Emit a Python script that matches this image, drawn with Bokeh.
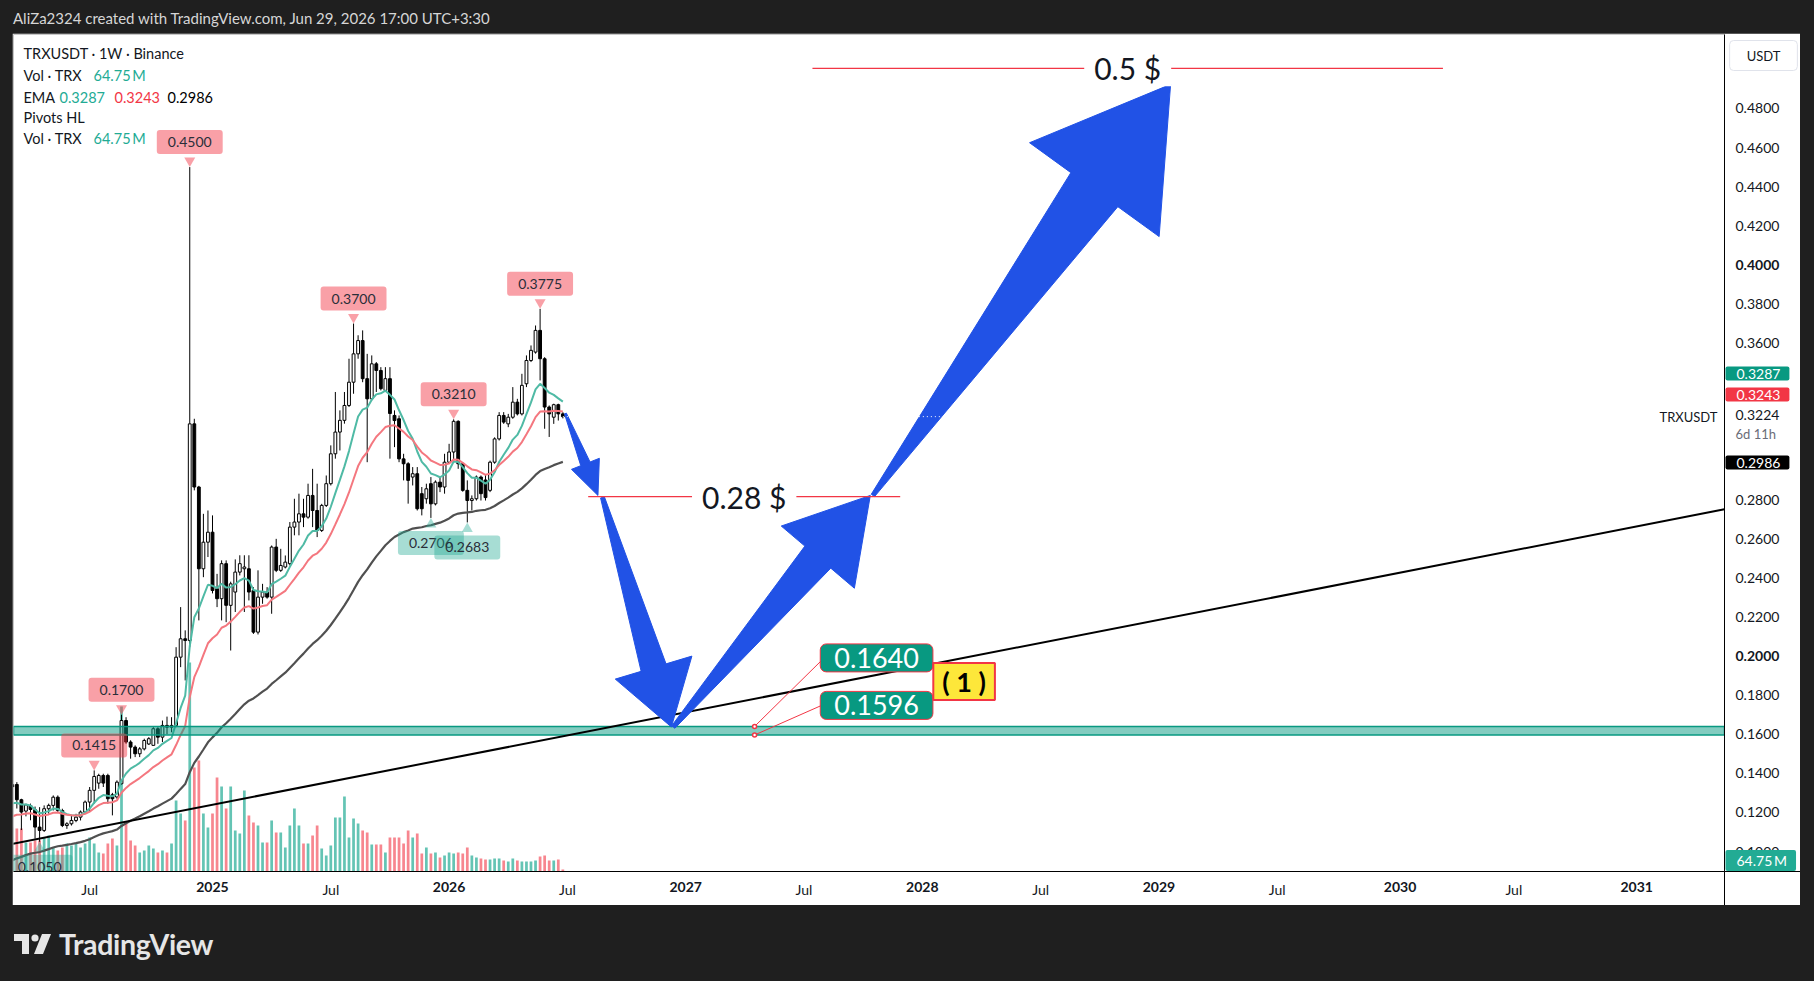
import math
import pandas as pd
from bokeh.plotting import figure
from bokeh.models import (ColumnDataSource, Range1d, FixedTicker, Label, Div, Spacer,
                          PrintfTickFormatter, DatetimeTickFormatter)
from bokeh.layouts import column, row
from bokeh.core.properties import value
from bokeh.embed import file_html
from bokeh.resources import INLINE

# ---------------- data (TRXUSDT, 1W, Binance) ----------------
FIRST_WEEK = "2024-03-04"
OPEN = [0.1330, 0.1343, 0.1265, 0.1207, 0.1235, 0.1214, 0.1125, 0.1108, 0.1219, 0.1236,
        0.1278, 0.1210, 0.1133, 0.1142, 0.1159, 0.1176, 0.1202, 0.1253, 0.1313, 0.1350,
        0.1389, 0.1389, 0.1290, 0.1279, 0.1347, 0.1670, 0.1560, 0.1534, 0.1500, 0.1525,
        0.1550, 0.1543, 0.1628, 0.1585, 0.1645, 0.1636, 0.1645, 0.1994, 0.2088, 0.2079,
        0.3187, 0.2864, 0.2446, 0.2582, 0.2633, 0.2344, 0.2293, 0.2472, 0.2259, 0.2327,
        0.2429, 0.2446, 0.2446, 0.2335, 0.2122, 0.2301, 0.2327, 0.2301, 0.2557, 0.2438,
        0.2455, 0.2472, 0.2659, 0.2685, 0.2727, 0.2710, 0.2821, 0.2744, 0.2642, 0.2770,
        0.2881, 0.3034, 0.3145, 0.3205, 0.3281, 0.3400, 0.3545, 0.3613, 0.3418, 0.3315,
        0.3494, 0.3460, 0.3358, 0.3418, 0.3230, 0.3213, 0.3008, 0.2983, 0.2915, 0.2932,
        0.2830, 0.2804, 0.2881, 0.2778, 0.2889, 0.2864, 0.2991, 0.3043, 0.3200, 0.2983,
        0.2847, 0.2795, 0.2804, 0.2915, 0.2900, 0.2847, 0.2991, 0.3110, 0.3230, 0.3187,
        0.3221, 0.3298, 0.3238, 0.3392, 0.3511, 0.3554, 0.3665, 0.3520, 0.3273, 0.3221,
        0.3285, 0.3238]
HIGH = [0.1380, 0.1355, 0.1270, 0.1245, 0.1245, 0.1230, 0.1227, 0.1236, 0.1245, 0.1287,
        0.1287, 0.1219, 0.1150, 0.1185, 0.1193, 0.1210, 0.1261, 0.1330, 0.1415, 0.1398,
        0.1398, 0.1398, 0.1300, 0.1364, 0.1700, 0.1687, 0.1569, 0.1543, 0.1534, 0.1577,
        0.1585, 0.1636, 0.1636, 0.1670, 0.1690, 0.1687, 0.2045, 0.2250, 0.2131, 0.4500,
        0.3213, 0.2870, 0.2727, 0.2744, 0.2719, 0.2420, 0.2489, 0.2489, 0.2380, 0.2494,
        0.2515, 0.2515, 0.2515, 0.2352, 0.2438, 0.2369, 0.2352, 0.2565, 0.2599, 0.2548,
        0.2514, 0.2685, 0.2804, 0.2830, 0.2804, 0.2881, 0.2957, 0.2881, 0.2778, 0.2923,
        0.3077, 0.3350, 0.3256, 0.3350, 0.3520, 0.3700, 0.3640, 0.3665, 0.3545, 0.3537,
        0.3503, 0.3477, 0.3477, 0.3477, 0.3256, 0.3230, 0.3034, 0.2991, 0.2966, 0.2966,
        0.2864, 0.2881, 0.2915, 0.2898, 0.2915, 0.3034, 0.3085, 0.3210, 0.3205, 0.2990,
        0.2898, 0.2821, 0.2923, 0.2923, 0.2930, 0.2999, 0.3118, 0.3247, 0.3247, 0.3238,
        0.3375, 0.3315, 0.3443, 0.3537, 0.3588, 0.3690, 0.3775, 0.3528, 0.3281, 0.3290,
        0.3290, 0.3247]
LOW = [0.1290, 0.1220, 0.1110, 0.1180, 0.1160, 0.1066, 0.1050, 0.1100, 0.1194, 0.1210,
       0.1202, 0.1125, 0.1116, 0.1133, 0.1150, 0.1159, 0.1193, 0.1202, 0.1245, 0.1321,
       0.1330, 0.1245, 0.1185, 0.1270, 0.1343, 0.1551, 0.1475, 0.1483, 0.1483, 0.1517,
       0.1545, 0.1543, 0.1551, 0.1560, 0.1600, 0.1610, 0.1636, 0.1943, 0.1875, 0.2045,
       0.2847, 0.2182, 0.2403, 0.2506, 0.2320, 0.2250, 0.2182, 0.2173, 0.2028, 0.2225,
       0.2412, 0.2225, 0.2284, 0.2113, 0.2110, 0.2267, 0.2293, 0.2216, 0.2429, 0.2430,
       0.2448, 0.2463, 0.2617, 0.2617, 0.2659, 0.2702, 0.2659, 0.2608, 0.2634, 0.2762,
       0.2872, 0.3009, 0.3051, 0.3188, 0.3273, 0.3341, 0.3520, 0.3400, 0.2991, 0.3307,
       0.3350, 0.3358, 0.3350, 0.3009, 0.3068, 0.2991, 0.2898, 0.2779, 0.2872, 0.2744,
       0.2719, 0.2779, 0.2706, 0.2770, 0.2838, 0.2830, 0.2983, 0.3000, 0.2957, 0.2840,
       0.2683, 0.2744, 0.2795, 0.2795, 0.2795, 0.2838, 0.2983, 0.3102, 0.3187, 0.3170,
       0.3213, 0.3230, 0.3230, 0.3375, 0.3503, 0.3546, 0.3409, 0.3162, 0.3120, 0.3187,
       0.3204, 0.3215]
CLOSE = [0.1343, 0.1265, 0.1202, 0.1238, 0.1215, 0.1125, 0.1108, 0.1219, 0.1236, 0.1278,
         0.1210, 0.1133, 0.1142, 0.1159, 0.1176, 0.1202, 0.1253, 0.1313, 0.1384, 0.1389,
         0.1350, 0.1270, 0.1270, 0.1355, 0.1670, 0.1560, 0.1534, 0.1500, 0.1525, 0.1568,
         0.1577, 0.1628, 0.1585, 0.1645, 0.1636, 0.1645, 0.1994, 0.2088, 0.2079, 0.3187,
         0.2864, 0.2446, 0.2582, 0.2633, 0.2335, 0.2293, 0.2472, 0.2259, 0.2369, 0.2429,
         0.2472, 0.2455, 0.2327, 0.2122, 0.2301, 0.2327, 0.2301, 0.2557, 0.2438, 0.2463,
         0.2480, 0.2659, 0.2685, 0.2727, 0.2710, 0.2821, 0.2744, 0.2642, 0.2770, 0.2881,
         0.3034, 0.3145, 0.3205, 0.3281, 0.3400, 0.3545, 0.3613, 0.3418, 0.3315, 0.3494,
         0.3460, 0.3367, 0.3418, 0.3240, 0.3204, 0.3008, 0.2983, 0.2898, 0.2932, 0.2753,
         0.2753, 0.2855, 0.2778, 0.2889, 0.2864, 0.2991, 0.3043, 0.3200, 0.2983, 0.2847,
         0.2795, 0.2804, 0.2915, 0.2830, 0.2810, 0.2991, 0.3110, 0.3230, 0.3196, 0.3221,
         0.3298, 0.3238, 0.3384, 0.3511, 0.3563, 0.3665, 0.3520, 0.3273, 0.3238, 0.3285,
         0.3238, 0.3224]
VOLUME_M = [1400,
            1376, 1376, 928, 928, 992, 992, 1088, 1152, 768, 672,
            768, 896, 832, 896, 768, 896, 1088, 896, 608, 576,
            896, 1056, 832, 5280, 1536, 992, 832, 608, 672, 832,
            736, 608, 672, 608, 896, 2272, 1856, 1632, 6688, 3328,
            3552, 1856, 1408, 1856, 3008, 2720, 2016, 2720, 1312, 1216,
            2592, 1792, 1568, 1472, 928, 928, 1632, 1248, 1248, 768,
            1472, 2016, 1472, 896, 896, 1152, 1472, 736, 512, 832,
            1728, 1728, 2400, 1088, 1696, 1536, 1312, 1248, 864, 864,
            864, 608, 1088, 1088, 1088, 896, 1312, 1088, 1216, 576,
            768, 576, 608, 448, 512, 608, 576, 608, 576, 768,
            512, 448, 416, 384, 384, 416, 416, 352, 320, 416,
            352, 320, 320, 320, 352, 480, 512, 352, 352, 384,
            64.75]
EMA_PERIODS = [10, 20, 60]
EMA_START = [0.1246, 0.1180, 0.0955]          # EMA values at the first visible week
EMA_LEGEND = ["0.3287", "0.3243", "0.2986"]
PIVOT_HIGH_IDX = [18, 24, 39, 75, 97, 116]
PIVOT_LOW_IDX = [6, 92, 100]
LAST_PRICE = 0.3224
LAST_VOLUME = "64.75\u2009M"
BAR_COUNTDOWN = "6d 11h"

# price-scale labels (those hidden behind the value badges are left out)
PRICE_TICKS = [0.10, 0.12, 0.14, 0.16, 0.18, 0.20, 0.22, 0.24, 0.26, 0.28,
               0.36, 0.38, 0.40, 0.42, 0.44, 0.46, 0.48]
PRICE_TICKS_BOLD = [0.20, 0.40]
YEAR_TICKS = ["2025-01-06", "2026-01-05", "2027-01-04", "2028-01-03",
              "2029-01-01", "2030-01-07", "2031-01-06"]
JUL_TICKS = ["2024-07-01", "2025-07-07", "2026-07-06", "2027-07-05",
             "2028-07-03", "2029-07-02", "2030-07-01"]

# drawings (date, price)
SUPPORT_ZONE = (0.1596, 0.1640)
TREND = [("2024-03-05", 0.1040), ("2031-05-21", 0.2750)]
LEVELS = [(0.2815, "2026-08-07", "2027-11-30", "0.28 $"),
          (0.5005, "2027-07-18", "2030-03-14", "0.5 $")]
ARROWS = [(("2026-07-03", 0.3240), ("2026-08-22", 0.2821)),
          (("2026-08-29", 0.2811), ("2026-12-13", 0.1637)),
          (("2026-12-16", 0.1637), ("2027-10-15", 0.2821)),
          (("2027-10-19", 0.2821), ("2029-01-19", 0.4923))]
ARROW_SIZES = [(1, 5, 15, 34), (2, 13, 40, 62), (2, 17, 48, 81), (2, 29, 80, 130)]
CALLOUT_DATE = "2027-04-20"
CALLOUT_PRICES = [0.1640, 0.1596]

# ---------------- geometry ----------------
FIG_W, FIG_H = 1788, 872
PAGE_X0, PAGE_Y0 = 12, 33
B_L, B_R, B_T, B_B = 1, 76, 1, 34
FRAME_W = FIG_W - B_L - B_R
FRAME_H = FIG_H - B_T - B_B
FRAME_X0 = PAGE_X0 + B_L
FRAME_Y0 = PAGE_Y0 + B_T
PX_PER_WEEK = 4.55
ANCHOR, ANCHOR_PX = pd.Timestamp("2025-01-06"), 212
X_START = ANCHOR - pd.Timedelta(weeks=(ANCHOR_PX - FRAME_X0) / PX_PER_WEEK)
X_END = X_START + pd.Timedelta(weeks=FRAME_W / PX_PER_WEEK)
Y_MIN, Y_MAX = 0.0898, 0.5178
VOL_M_PER_PX = 32


def ms(t):
    return pd.Timestamp(t).value / 1e6


XS, XE = ms(X_START), ms(X_END)
PXU = FRAME_H / (Y_MAX - Y_MIN)
WEEK_MS = 7 * 24 * 3600 * 1000


def px_x(m):
    return FRAME_X0 + (m - XS) / (XE - XS) * FRAME_W


def px_y(p):
    return FRAME_Y0 + (Y_MAX - p) * PXU


def x_at(px):
    return XS + (px - FRAME_X0) / FRAME_W * (XE - XS)


def y_at(py):
    return Y_MAX - (py - FRAME_Y0) / PXU


FONT = "Lato"
TXT = "#131722"
N = len(CLOSE)
X = [ms(d) for d in pd.date_range(FIRST_WEEK, periods=N, freq="7D")]

p = figure(width=FIG_W, height=FIG_H, x_axis_type="datetime", y_axis_location="right",
           x_range=Range1d(XS, XE), y_range=Range1d(Y_MIN, Y_MAX),
           toolbar_location=None, output_backend="svg",
           min_border_left=B_L, min_border_right=B_R, min_border_top=B_T, min_border_bottom=B_B,
           background_fill_color="white", border_fill_color="white")
p.outline_line_color = None
p.grid.visible = False
p.extra_y_ranges = {"vol": Range1d(0, FRAME_H * VOL_M_PER_PX)}

xa = p.xaxis[0]
xa.ticker = FixedTicker(ticks=[ms(t) for t in YEAR_TICKS], minor_ticks=[])
fmt = "%Y"
xa.formatter = DatetimeTickFormatter(years=fmt, months=fmt, days=fmt, hours=fmt, hourmin=fmt,
                                     minutes=fmt, minsec=fmt, seconds=fmt,
                                     milliseconds=fmt, microseconds=fmt)
xa.axis_line_color = "black"
xa.major_tick_line_color = None
xa.minor_tick_line_color = None
xa.major_tick_out = 0
xa.major_tick_in = 0
xa.major_label_standoff = 10
xa.major_label_text_font = FONT
xa.major_label_text_font_size = "14px"
xa.major_label_text_font_style = "bold"
xa.major_label_text_color = TXT

ya = p.yaxis[0]
ya.ticker = FixedTicker(ticks=[t for t in PRICE_TICKS if t not in PRICE_TICKS_BOLD], minor_ticks=[])
ya.formatter = PrintfTickFormatter(format="%.4f")
ya.axis_line_color = "black"
ya.major_tick_line_color = None
ya.minor_tick_line_color = None
ya.major_tick_out = 0
ya.major_tick_in = 0
ya.major_label_standoff = 11
ya.major_label_text_font = FONT
ya.major_label_text_font_size = "14px"
ya.major_label_text_color = TXT

# ---------------- candles + volume ----------------
up = [c >= o for o, c in zip(OPEN, CLOSE)]
src = ColumnDataSource(dict(
    x=X, o=OPEN, h=HIGH, l=LOW, c=CLOSE,
    top=[max(o, c) for o, c in zip(OPEN, CLOSE)],
    bot=[min(o, c) for o, c in zip(OPEN, CLOSE)],
    fill=["white" if u else "black" for u in up],
    vol=VOLUME_M,
    vcol=["#22ab94" if u else "#f23645" for u in up],
    valpha=[0.7 if u else 0.6 for u in up]))
p.vbar(x="x", top="vol", bottom=0, width=0.6 * WEEK_MS, source=src, y_range_name="vol",
       fill_color="vcol", fill_alpha="valpha", line_color=None)
p.segment(x0="x", y0="l", x1="x", y1="h", source=src, line_color="black", line_width=1)
p.vbar(x="x", top="top", bottom="bot", width=0.62 * WEEK_MS, source=src,
       fill_color="fill", line_color="black", line_width=1)


def ema(vals, period, start):
    a = 2.0 / (period + 1)
    out = [start]
    for v in vals[1:]:
        out.append(out[-1] + a * (v - out[-1]))
    return out


EMA_COLORS = ["#4fbaa5", "#f4777f", "#505050"]
EMA_WIDTHS = [2, 2, 2.2]
for per, st, col, w in zip(EMA_PERIODS, EMA_START, EMA_COLORS, EMA_WIDTHS):
    p.line(X, ema(CLOSE, per, st), line_color=col, line_width=w)

# ---------------- drawings ----------------
p.quad(left=[XS], right=[XE], bottom=[SUPPORT_ZONE[0]], top=[SUPPORT_ZONE[1]],
       fill_color="#089981", fill_alpha=0.5, line_color="#089981", line_width=1.5)
p.line([ms(TREND[0][0]), ms(TREND[1][0])], [TREND[0][1], TREND[1][1]],
       line_color="black", line_width=2)


def arrow_patch(tail, tip, tail_hw, shaft_hw, head_hw, head_len):
    tx, ty = px_x(ms(tail[0])), px_y(tail[1])
    hx, hy = px_x(ms(tip[0])), px_y(tip[1])
    L = math.hypot(hx - tx, hy - ty)
    ux, uy = (hx - tx) / L, (hy - ty) / L
    nx, ny = -uy, ux
    bx, by = hx - ux * head_len, hy - uy * head_len
    pts = [(tx + nx * tail_hw, ty + ny * tail_hw), (bx + nx * shaft_hw, by + ny * shaft_hw),
           (bx + nx * head_hw, by + ny * head_hw), (hx, hy),
           (bx - nx * head_hw, by - ny * head_hw), (bx - nx * shaft_hw, by - ny * shaft_hw),
           (tx - nx * tail_hw, ty - ny * tail_hw)]
    return [x_at(a) for a, _ in pts], [y_at(b) for _, b in pts]


for (tail, tip), sz in zip(ARROWS, ARROW_SIZES):
    xs, ys = arrow_patch(tail, tip, *sz)
    p.patch(xs, ys, fill_color="#2152e6", line_color="#2152e6", line_width=1)

# current price line (white dotted, visible only over dark areas)
p.line([X[-1], XE], [LAST_PRICE, LAST_PRICE], line_color="white", line_width=1, line_dash="1 3")

for price, d0, d1, txt in LEVELS:
    x0, x1 = ms(d0), ms(d1)
    p.line([x0, x1], [price, price], line_color="#f23645", line_width=1.2)
    p.text(x=[(x0 + x1) / 2], y=[price], text=[txt], text_align="center", text_baseline="middle",
           text_font=value(FONT), text_font_size="30px", text_color=TXT,
           background_fill_color="white",
           padding=dict(left=10, right=10, top=0, bottom=0))

# callouts 0.1640 / 0.1596
cx = ms(CALLOUT_DATE)
cpx = px_x(cx)
box_dy = [-68.5, -29.6]
conn_dy = [-66, -29.6]
for pr, cdy in zip(CALLOUT_PRICES, conn_dy):
    py = px_y(pr)
    p.segment(x0=[cx], y0=[pr], x1=[x_at(cpx + 67)], y1=[y_at(py + cdy)],
              line_color="#f23645", line_width=1)
for pr, bdy in zip(CALLOUT_PRICES, box_dy):
    py = px_y(pr)
    p.text(x=[x_at(cpx + 122)], y=[y_at(py + bdy)], text=[f"{pr:.4f}"],
           text_align="center", text_baseline="middle",
           text_font=value(FONT), text_font_size="27px", text_color="white",
           background_fill_color="#089981", border_line_color="#f23645", border_line_width=1,
           border_radius=6, padding=dict(left=14, right=14, top=4, bottom=4))
p.scatter([cx, cx], CALLOUT_PRICES, marker="circle", size=4, fill_color="white",
          line_color="#f23645", line_width=1.5)
p.text(x=[x_at(cpx + 209.5)], y=[y_at(px_y(CALLOUT_PRICES[0]) - 45)], text=["( 1 )"],
       text_align="center", text_baseline="middle",
       text_font=value(FONT), text_font_size="27px", text_font_style="bold", text_color="black",
       background_fill_color="#fde73a", border_line_color="#f23645", border_line_width=2,
       padding=dict(left=9, right=9, top=2, bottom=2))

# ---------------- pivots HL ----------------
HI_COL, LO_COL = "#f23645", "#22ab94"
hx = [X[i] for i in PIVOT_HIGH_IDX]
hy = [HIGH[i] for i in PIVOT_HIGH_IDX]
p.scatter(hx, [v + 6.35 / PXU for v in hy], marker="inverted_triangle", size=11,
          fill_color=HI_COL, fill_alpha=0.47, line_color=None)
p.text(x=hx, y=hy, text=[f"{v:.4f}" for v in hy], text_align="center", text_baseline="middle",
       y_offset=-25, text_font=value(FONT), text_font_size="14px", text_color="#2a2e39",
       background_fill_color=HI_COL, background_fill_alpha=0.47, border_radius=3,
       padding=dict(left=11, right=11, top=7, bottom=7))
lx = [X[i] for i in PIVOT_LOW_IDX]
ly = [LOW[i] for i in PIVOT_LOW_IDX]
p.scatter(lx, [v - 6.35 / PXU for v in ly], marker="triangle", size=11,
          fill_color=LO_COL, fill_alpha=0.4, line_color=None)
p.text(x=lx, y=ly, text=[f"{v:.4f}" for v in ly], text_align="center", text_baseline="middle",
       y_offset=25, text_font=value(FONT), text_font_size="14px", text_color="#2a2e39",
       background_fill_color=LO_COL, background_fill_alpha=0.4, border_radius=3,
       padding=dict(left=11, right=11, top=7, bottom=7))


# ---------------- legend (top-left) ----------------
def lab(px, py, text, color=TXT, size="14.5px"):
    p.add_layout(Label(x=x_at(px), y=y_at(py), text=text, text_color=color, text_font=FONT,
                       text_font_size=size, text_align="left", text_baseline="middle"))


lab(23, 53, "TRXUSDT · 1W · Binance")
lab(23, 75, "Vol · TRX")
lab(93, 75, LAST_VOLUME, color="#22ab94")
lab(23, 97, "EMA")
lab(59, 97, EMA_LEGEND[0], color="#22ab94")
lab(114, 97, EMA_LEGEND[1], color="#f23645")
lab(167, 97, EMA_LEGEND[2], color="black")
lab(23, 117, "Pivots HL")
lab(23, 138, "Vol · TRX")
lab(93, 138, LAST_VOLUME, color="#22ab94")

# symbol name on the price line
p.add_layout(Label(x=x_at(1717), y=LAST_PRICE, text="TRXUSDT", text_color=TXT, text_font=FONT,
                   text_font_size="13px", text_align="right", text_baseline="middle"))


# ---------------- axis-side labels and badges (overlay level, drawn outside the frame) ----------------
def out_text(px, py, text, color=TXT, size="14px", bold=False, bg=None, align="left",
             pad=None, border=None, radius=2):
    p.text(x=[x_at(px)], y=[y_at(py)], text=[text], text_font=value(FONT), text_font_size=size,
           text_color=color, text_align=align, text_baseline="middle",
           text_font_style="bold" if bold else "normal",
           background_fill_color=bg, border_line_color=border, border_radius=radius,
           padding=pad or dict(left=0, right=0, top=0, bottom=0), level="overlay")


AX_X = FRAME_X0 + FRAME_W
# axis line continuing under the price scale and separator through the time scale
p.segment(x0=[x_at(AX_X)], y0=[Y_MIN], x1=[x_at(1800)], y1=[Y_MIN], line_color="black",
          line_width=1, level="overlay")
p.segment(x0=[x_at(AX_X)], y0=[Y_MIN], x1=[x_at(AX_X)], y1=[y_at(905)], line_color="black",
          line_width=1, level="overlay")
for t in PRICE_TICKS_BOLD:
    out_text(AX_X + 11, px_y(t), f"{t:.4f}", bold=True)
for t in JUL_TICKS:
    out_text(px_x(ms(t)), 889, "Jul", align="center")

BADGE_PAD = dict(left=11, right=9, top=2, bottom=2)
out_text(AX_X + 1, 373, EMA_LEGEND[0], color="white", bg="#089981", pad=BADGE_PAD)
out_text(AX_X + 1, 394, EMA_LEGEND[1], color="white", bg="#f23645", pad=BADGE_PAD)
out_text(AX_X + 11, 414, f"{LAST_PRICE:.4f}")
out_text(AX_X + 11, 433, BAR_COUNTDOWN, color="#6a6d78", size="13px")
out_text(AX_X + 1, 462, EMA_LEGEND[2], color="white", bg="#000000", pad=BADGE_PAD)
out_text(AX_X + 1, 860, LAST_VOLUME, color="white", bg="#22ab94", pad=BADGE_PAD)
out_text(1763, 55, "USDT", size="13px", bg="white", border="#e0e3eb", radius=4, align="center",
         pad=dict(left=17, right=17, top=7, bottom=7))

# ---------------- page frame ----------------
header = Div(text='<div style="font-family: Lato, sans-serif; font-size: 15px; color: #d6d6d6; '
                  'padding: 8px 0 0 13px; white-space: nowrap;">'
                  'AliZa2324 created with TradingView.com, Jun 29, 2026 17:00 UTC+3:30</div>',
             width=1814, height=PAGE_Y0, margin=0)
logo = ('<svg width="38" height="26" viewBox="0 0 38 26">'
        '<path d="M0 3 H15 V23 H8 V10 H0 Z" fill="#e6e6e6"/>'
        '<circle cx="21" cy="7" r="3.6" fill="#e6e6e6"/>'
        '<path d="M28 3 H37 L29 23 H20 Z" fill="#e6e6e6"/></svg>')
footer = Div(text='<div style="display:flex; align-items:center; padding: 19px 0 0 14px; '
                  'color:#e6e6e6;">' + logo +
                  '<span style="font-family: Lato, sans-serif; font-weight: 700; font-size: 28.5px; '
                  'margin-left: 7px; letter-spacing: -0.3px;">TradingView</span></div>',
             width=1814, height=981 - PAGE_Y0 - FIG_H, margin=0)
body = row(Spacer(width=PAGE_X0, height=FIG_H, margin=0), p,
           Spacer(width=1814 - PAGE_X0 - FIG_W, height=FIG_H, margin=0), margin=0)
layout = column(header, body, footer, width=1814, height=981, margin=0,
                styles={"background-color": "#1f1f1f"})

open("out.html", "w").write(file_html(layout, INLINE))
